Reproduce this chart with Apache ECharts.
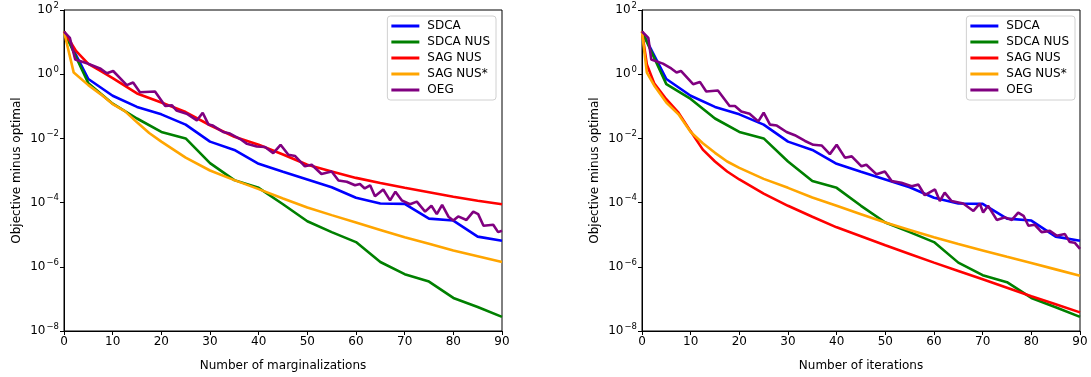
<!DOCTYPE html>
<html>
<head>
<meta charset="utf-8">
<script src="https://cdn.jsdelivr.net/npm/echarts@6/dist/echarts.min.js"></script>
<style>
  html, body { margin: 0; padding: 0; background: #fff; }
  #chart { width: 1091px; height: 377px; }
</style>
</head>
<body>
<div id="chart"></div>
<script>
// values are log10 of "objective minus optimal"
const seriesNames = ["SDCA", "SDCA NUS", "SAG NUS", "SAG NUS*", "OEG"];
const colors = ["#0000ff", "#008000", "#ff0000", "#ffa500", "#800080"];

const x5 = [0, 5, 10, 15, 20, 25, 30, 35, 40, 45, 50, 55, 60, 65, 70, 75, 80, 85, 90];

const sdcaExp = [1.33, -0.15, -0.67, -1.02, -1.25, -1.57, -2.1, -2.36, -2.79, -3.04, -3.28, -3.52, -3.85, -4.03, -4.04, -4.5, -4.56, -5.06, -5.19];
const sdcaNusLeftExp = [1.33, -0.28, -0.92, -1.38, -1.8, -2.0, -2.77, -3.3, -3.54, -4.05, -4.58, -4.92, -5.23, -5.85, -6.23, -6.46, -6.97, -7.25, -7.56];
const sdcaNusRightExp = [1.33, -0.31, -0.77, -1.38, -1.8, -2.0, -2.72, -3.33, -3.54, -4.1, -4.62, -4.92, -5.23, -5.87, -6.26, -6.48, -6.97, -7.26, -7.56];

const sagLeftX = [0, 2.5, 5, 7.5, 10, 15, 20, 25, 30, 35, 40, 45, 50, 55, 60, 65, 70, 75, 80, 85, 90];
const sagNusLeftExp = [1.33, 0.72, 0.32, 0.1, -0.12, -0.6, -0.88, -1.18, -1.59, -1.95, -2.2, -2.5, -2.82, -3.03, -3.23, -3.39, -3.54, -3.68, -3.82, -3.94, -4.05];

const sagStarLeftX = [0, 2, 5, 7.5, 10, 12.5, 15, 17.5, 20, 25, 30, 35, 40, 45, 50, 55, 60, 65, 70, 75, 80, 85, 90];
const sagStarLeftExp = [1.33, 0.05, -0.34, -0.62, -0.93, -1.15, -1.5, -1.83, -2.1, -2.6, -3.0, -3.3, -3.58, -3.87, -4.15, -4.39, -4.62, -4.85, -5.08, -5.28, -5.49, -5.67, -5.85];

const sagRightX = [0, 1, 2.5, 5, 7.5, 10, 12.5, 15, 17.5, 20, 25, 30, 35, 40, 45, 50, 55, 60, 65, 70, 75, 80, 85, 90];
const sagNusRightExp = [1.33, 0.3, -0.28, -0.78, -1.2, -1.78, -2.35, -2.72, -3.03, -3.28, -3.72, -4.1, -4.44, -4.77, -5.05, -5.33, -5.6, -5.87, -6.13, -6.39, -6.65, -6.92, -7.17, -7.42];
const sagStarRightExp = [1.33, 0.05, -0.35, -0.88, -1.25, -1.8, -2.15, -2.45, -2.72, -2.92, -3.26, -3.54, -3.84, -4.1, -4.36, -4.62, -4.85, -5.08, -5.29, -5.49, -5.69, -5.88, -6.08, -6.28];

const oegLeftX = [0, 1.2, 2.3, 4.7, 7.4, 8.8, 10.1, 12.9, 14.2, 15.6, 18.7, 20.8, 22.2, 23.1, 25.2, 27.3, 28.5, 29.7, 30.6, 32.7, 34.1, 36.2, 37.6, 39.6, 41.3, 43, 44.5, 46.1, 47.5, 49.5, 50.9, 52.9, 55, 56.4, 58.1, 59.8, 60.8, 61.8, 62.9, 63.9, 65.6, 67, 68.1, 69.4, 71.1, 72.5, 74.2, 75.5, 76.6, 77.7, 79, 80, 81, 82.7, 84.1, 85.1, 86.2, 88.2, 89.2, 90];
const oegLeftExp = [1.33, 1.13, 0.46, 0.34, 0.18, 0.03, 0.1, -0.34, -0.26, -0.56, -0.54, -0.99, -0.97, -1.13, -1.23, -1.44, -1.2, -1.57, -1.6, -1.8, -1.85, -2.02, -2.17, -2.25, -2.27, -2.46, -2.2, -2.51, -2.55, -2.87, -2.82, -3.11, -3.03, -3.31, -3.35, -3.46, -3.42, -3.56, -3.46, -3.8, -3.59, -3.93, -3.66, -3.93, -4.05, -3.97, -4.28, -4.1, -4.36, -4.07, -4.44, -4.56, -4.43, -4.54, -4.28, -4.36, -4.72, -4.69, -4.92, -4.88];

const oegRightX = [0, 1.3, 1.9, 4.3, 6, 7.1, 8, 10.5, 11.9, 13.2, 15.6, 18, 19.1, 20.4, 22.1, 23.9, 25, 26.3, 27.7, 29.7, 31.4, 33.5, 35.2, 36.9, 38.6, 40, 41.7, 43.1, 45.1, 46.1, 48.2, 49.9, 51.3, 53.3, 55.4, 56.8, 58.1, 60.2, 61.2, 62.2, 63.6, 66, 68.1, 69.4, 70.1, 71.1, 72.9, 74.6, 76, 77.3, 78.4, 79.4, 80.7, 82.1, 83.8, 85.2, 86.9, 87.9, 88.9, 90];
const oegRightExp = [1.33, 1.13, 0.46, 0.33, 0.18, 0.05, 0.1, -0.31, -0.24, -0.54, -0.51, -0.99, -0.99, -1.16, -1.23, -1.47, -1.2, -1.57, -1.6, -1.8, -1.9, -2.08, -2.2, -2.22, -2.49, -2.2, -2.6, -2.56, -2.87, -2.82, -3.12, -3.03, -3.33, -3.38, -3.49, -3.44, -3.77, -3.59, -3.95, -3.69, -3.95, -4.03, -4.26, -4.03, -4.31, -4.1, -4.54, -4.46, -4.54, -4.31, -4.41, -4.72, -4.69, -4.92, -4.88, -5.03, -4.98, -5.23, -5.25, -5.44];

const xTicks = [0, 10, 20, 30, 40, 50, 60, 70, 80, 90];

function pairs(xs, exps) {
  return xs.map((x, i) => [x, Math.pow(10, exps[i])]);
}

const leftData = [
  pairs(x5, sdcaExp),
  pairs(x5, sdcaNusLeftExp),
  pairs(sagLeftX, sagNusLeftExp),
  pairs(sagStarLeftX, sagStarLeftExp),
  pairs(oegLeftX, oegLeftExp),
];
const rightData = [
  pairs(x5, sdcaExp),
  pairs(x5, sdcaNusRightExp),
  pairs(sagRightX, sagNusRightExp),
  pairs(sagRightX, sagStarRightExp),
  pairs(oegRightX, oegRightExp),
];

const font = "DejaVu Sans";

function xAxisFor(idx, name) {
  return {
    gridIndex: idx,
    type: "value",
    min: 0,
    max: 90,
    interval: 10,
    name: name,
    nameLocation: "middle",
    nameGap: 29,
    nameTextStyle: { color: "#000", fontSize: 12, fontFamily: font },
    axisLine: { show: true, lineStyle: { color: "#000", width: 1 } },
    axisTick: { show: true, length: 4, lineStyle: { color: "#000" } },
    axisLabel: {
      color: "#000", fontSize: 12, fontFamily: font, margin: 5,
      formatter: (v) => (xTicks.includes(v) ? String(v) : ""),
    },
    splitLine: { show: false },
  };
}

function yAxisFor(idx) {
  return {
    gridIndex: idx,
    type: "log",
    logBase: 10,
    min: 1e-8,
    max: 1e2,
    interval: 2,
    name: "Objective minus optimal",
    nameLocation: "middle",
    nameGap: 41,
    nameTextStyle: { color: "#000", fontSize: 12, fontFamily: font },
    axisLine: { show: true, lineStyle: { color: "#000", width: 1 } },
    axisTick: { show: true, length: 4, lineStyle: { color: "#000" } },
    minorTick: { show: false },
    axisLabel: {
      margin: 5,
      formatter: (v) => {
        const e = Math.round(Math.log10(v));
        const s = e < 0 ? "\u2212" + Math.abs(e) : String(e);
        return "{b|10}{s|" + s + "}";
      },
      rich: {
        b: { color: "#000", fontSize: 12, fontFamily: font },
        s: { color: "#000", fontSize: 8.5, fontFamily: font, padding: [0, 0, 9, 1] },
      },
    },
    splitLine: { show: false },
  };
}

function legendFor(right) {
  return {
    orient: "vertical",
    right: right,
    top: 16,
    data: seriesNames,
    icon: "rect",
    itemWidth: 28,
    itemHeight: 3,
    itemGap: 4,
    padding: [4, 6, 4, 4],
    backgroundColor: "#fff",
    borderColor: "#d0d0d0",
    borderWidth: 1,
    borderRadius: 3,
    textStyle: { color: "#000", fontSize: 12, fontFamily: font, padding: [0, 0, 0, 3] },
    selectedMode: false,
  };
}

const series = [];
[leftData, rightData].forEach((panel, g) => {
  panel.forEach((data, i) => {
    series.push({
      name: seriesNames[i],
      type: "line",
      xAxisIndex: g,
      yAxisIndex: g,
      data: data,
      showSymbol: false,
      symbol: "none",
      animation: false,
      lineStyle: { color: colors[i], width: 2.6 },
      itemStyle: { color: colors[i] },
      z: 2 + i,
    });
  });
});

const chart = echarts.init(document.getElementById("chart"));
chart.setOption({
  animation: false,
  backgroundColor: "#fff",
  grid: [
    { left: 64, top: 10, width: 438, height: 325, show: true, borderColor: "#000", borderWidth: 1, backgroundColor: "transparent" },
    { left: 642, top: 10, width: 438, height: 325, show: true, borderColor: "#000", borderWidth: 1, backgroundColor: "transparent" },
  ],
  legend: [legendFor(1091 - 496), legendFor(1091 - 1075)],
  xAxis: [xAxisFor(0, "Number of marginalizations"), xAxisFor(1, "Number of iterations")],
  yAxis: [yAxisFor(0), yAxisFor(1)],
  series: series,
});
</script>
</body>
</html>
